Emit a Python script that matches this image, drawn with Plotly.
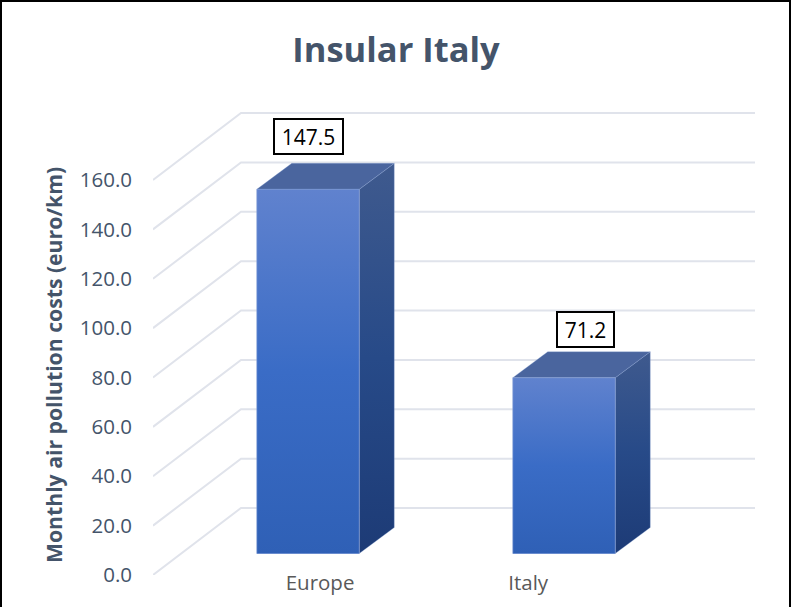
import plotly.graph_objects as go

categories = ["Europe", "Italy"]
values = [147.5, 71.2]
ticks = [0, 20, 40, 60, 80, 100, 120, 140, 160]
tick_labels = ["0.0", "20.0", "40.0", "60.0", "80.0", "100.0", "120.0", "140.0", "160.0"]
title_text = "Insular Italy"
y_title = "Monthly air pollution costs (euro/km)"

# layout geometry
W, H = 791, 607
ML, MR, MT, MB = 153, 36, 100, 32
PX_PER_CAT = 256.0
PX_PER_VAL = 395.0 / 160.0
XMIN = -(308 - 153) / PX_PER_CAT
XMAX = (755 - 308) / PX_PER_CAT
YMAX = (H - MB - MT) / PX_PER_VAL

# oblique projection
WALL_DX, WALL_DV = 88 / PX_PER_CAT, 67 / PX_PER_VAL
BAR_W = 102.5 / PX_PER_CAT
BAR_DX, BAR_DV = 35 / PX_PER_CAT, 26 / PX_PER_VAL
FLOOR = 21.5 / PX_PER_VAL
xs = list(range(len(categories)))

FONT = "Open Sans"
AXIS_COL = "#44546A"

fig = go.Figure()

# wall / floor gridlines
for t in ticks:
    fig.add_trace(go.Scatter(
        x=[XMIN, XMIN + WALL_DX, XMAX], y=[t, t + WALL_DV, t + WALL_DV],
        mode="lines", line=dict(color="#E0E3EB", width=2),
        showlegend=False, hoverinfo="skip"))

# base bars
fig.add_trace(go.Bar(
    x=xs, y=values, base=[FLOOR] * len(values), width=BAR_W,
    marker=dict(color="#3F6FC6", line=dict(width=0)),
    showlegend=False, hoverinfo="skip"))

EDGE = "rgba(140,165,216,0.6)"
for x, v in zip(xs, values):
    l, r = x - BAR_W / 2, x + BAR_W / 2
    b, t = FLOOR, FLOOR + v
    # side face
    fig.add_trace(go.Scatter(
        x=[r, r + BAR_DX, r + BAR_DX, r, r], y=[b, b + BAR_DV, t + BAR_DV, t, b],
        mode="lines", fill="toself", line=dict(color="rgba(140,165,216,0.3)", width=1),
        fillgradient=dict(type="vertical",
                          colorscale=[[0, "#1D3B76"], [0.5, "#274A88"], [1, "#3F5A8E"]]),
        showlegend=False, hoverinfo="skip"))
    # top face
    fig.add_trace(go.Scatter(
        x=[l, r, r + BAR_DX, l + BAR_DX, l], y=[t, t, t + BAR_DV, t + BAR_DV, t],
        mode="lines", fill="toself", line=dict(color="rgba(140,165,216,0.3)", width=1),
        fillcolor="#4A659E", showlegend=False, hoverinfo="skip"))
    # front face
    fig.add_trace(go.Scatter(
        x=[l, r, r, l, l], y=[b, b, t, t, b],
        mode="lines", fill="toself", line=dict(color=EDGE, width=1),
        fillgradient=dict(type="vertical",
                          colorscale=[[0, "#2F60B6"], [0.5, "#3A6CC6"], [1, "#6082CE"]]),
        showlegend=False, hoverinfo="skip"))

PW, PH = W - ML - MR, H - MT - MB
def px(x): return (x - ML) / PW
def py(y): return (H - MB - y) / PH

# data labels
label_pos = [(0.0, 30.1, 67), (1.084, 28.2, 55)]
annots = []
for v, (x, dv, w) in zip(values, label_pos):
    annots.append(dict(
        x=x, y=v + dv, xref="x", yref="y", text=f"{v:.1f}", showarrow=False,
        font=dict(family=FONT, size=21, color="#000000"),
        bgcolor="#FFFFFF", bordercolor="#000000", borderwidth=2, borderpad=0,
        width=w, height=33, align="center", valign="middle"))

# y-axis title
annots.append(dict(
    x=px(53), y=py(365), xref="paper", yref="paper", text=f"<b>{y_title}</b>",
    xanchor="center", yanchor="middle",
    showarrow=False, textangle=-90, font=dict(family=FONT, size=21.2, color=AXIS_COL)))

# frame
frame = [
    dict(x0=px(1), x1=px(1), y0=py(0), y1=py(H)),
    dict(x0=px(0), x1=px(W), y0=py(1), y1=py(1)),
    dict(x0=px(790), x1=px(790), y0=py(0), y1=py(H)),
]
shapes = [dict(type="line", xref="paper", yref="paper", line=dict(color="#000000", width=2), **f) for f in frame]

fig.update_layout(
    width=W, height=H, autosize=False,
    margin=dict(l=ML, r=MR, t=MT, b=MB, pad=0),
    paper_bgcolor="#FFFFFF", plot_bgcolor="#FFFFFF",
    title=dict(text=f"<b>{title_text}</b>", x=396 / W, xanchor="center", y=1 - 50 / H, yanchor="middle",
               font=dict(family=FONT, size=34.5, color=AXIS_COL)),
    xaxis=dict(range=[XMIN, XMAX], showgrid=False, zeroline=False, showline=False, ticks="",
               automargin=False,
               tickmode="array", tickvals=[0.047, 0.86], ticktext=categories,
               ticklabelstandoff=-7,
               tickfont=dict(family=FONT, size=20.5, color="#595959")),
    yaxis=dict(range=[0, YMAX], showgrid=False, zeroline=False, showline=False, ticks="",
               automargin=False,
               tickmode="array", tickvals=ticks, ticktext=tick_labels,
               ticklabelstandoff=20,
               tickfont=dict(family=FONT, size=20.5, color=AXIS_COL)),
    showlegend=False, annotations=annots, shapes=shapes, bargap=0,
)

fig.write_html("out.html", config={"displayModeBar": False},
               post_script="document.body.style.margin='0';document.documentElement.style.overflow='hidden';")
